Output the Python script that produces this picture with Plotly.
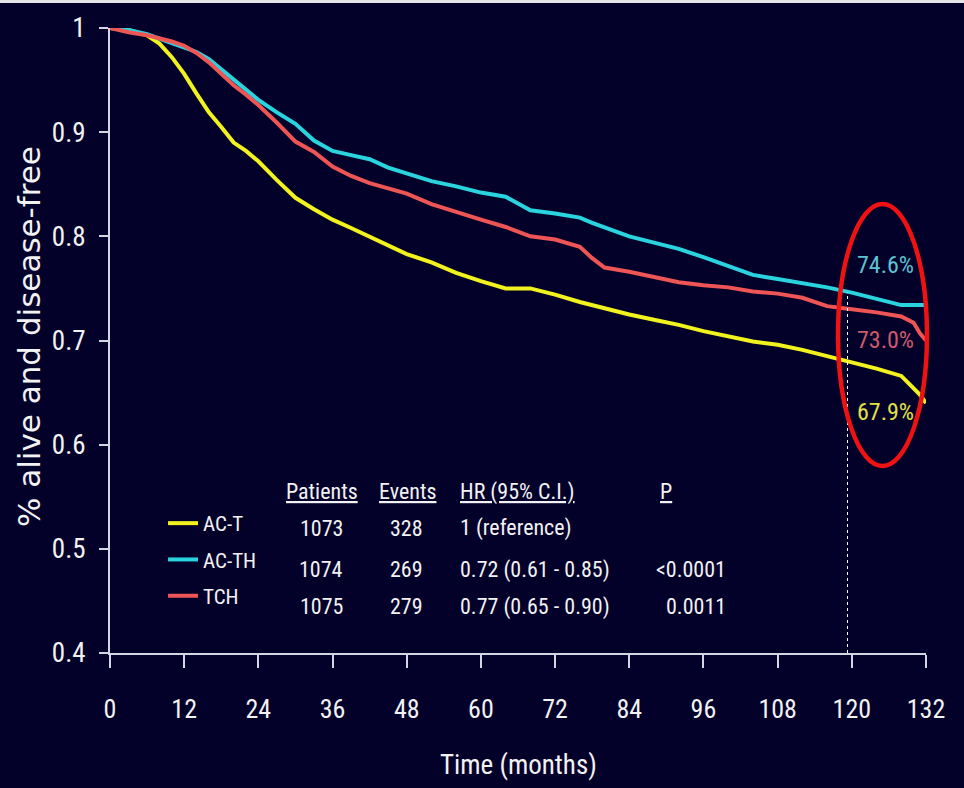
import plotly.graph_objects as go

# Kaplan-Meier disease-free survival, three arms
months = [0, 3, 6, 8, 10, 12, 14, 16, 18, 20, 22, 24, 27, 30, 33, 36, 39, 42, 45, 48,
          52, 56, 60, 64, 68, 72, 76, 78, 80, 84, 88, 92, 96, 100, 104, 108, 112, 116,
          120, 124, 128, 130, 131, 132]

ac_t = [1.000, 0.998, 0.993, 0.985, 0.972, 0.956, 0.937, 0.919, 0.905, 0.890, 0.882,
        0.872, 0.854, 0.837, 0.826, 0.816, 0.808, 0.800, 0.791, 0.783, 0.775, 0.765,
        0.757, 0.750, 0.750, 0.744, 0.737, 0.734, 0.731, 0.725, 0.720, 0.715, 0.709,
        0.704, 0.699, 0.696, 0.691, 0.685, 0.679, 0.673, 0.666, 0.654, 0.648, 0.640]

ac_th = [1.000, 0.998, 0.994, 0.990, 0.986, 0.982, 0.977, 0.970, 0.960, 0.950, 0.941,
         0.931, 0.919, 0.908, 0.892, 0.882, 0.878, 0.874, 0.866, 0.860, 0.853, 0.848,
         0.842, 0.838, 0.825, 0.822, 0.818, 0.813, 0.809, 0.800, 0.794, 0.788, 0.780,
         0.771, 0.763, 0.759, 0.755, 0.751, 0.746, 0.740, 0.734, 0.734, 0.734, 0.734]

tch = [1.000, 0.996, 0.993, 0.990, 0.987, 0.983, 0.976, 0.967, 0.956, 0.945, 0.936,
       0.926, 0.909, 0.891, 0.881, 0.867, 0.858, 0.851, 0.846, 0.841, 0.831, 0.823,
       0.816, 0.809, 0.800, 0.797, 0.790, 0.779, 0.770, 0.766, 0.761, 0.756, 0.753,
       0.751, 0.747, 0.745, 0.741, 0.733, 0.730, 0.727, 0.723, 0.717, 0.707, 0.700]

arm_names = ["AC-T", "AC-TH", "TCH"]
arm_series = [ac_t, ac_th, tch]
line_colors = ["#f2f21e", "#2ad4de", "#ee5555"]
label_colors = ["#e2e246", "#5cc3d3", "#cf5a6c"]

# 10-year (120 month) estimates
landmark_month = 120
landmark_pct = [67.9, 74.6, 73.0]
label_y = [0.6314, 0.7725, 0.7005]

# Summary table
table_headers = ["Patients", "Events", "HR (95% C.I.)", "P"]
patients = [1073, 1074, 1075]
events = [328, 269, 279]
hr_text = ["1 (reference)", "0.72 (0.61 - 0.85)", "0.77 (0.65 - 0.90)"]
p_text = ["", "<0.0001", "0.0011"]

tick_months = list(range(0, 133, 12))
y_ticks = [0.4, 0.5, 0.6, 0.7, 0.8, 0.9, 1.0]
y_ticktext = ["0.4", "0.5", "0.6", "0.7", "0.8", "0.9", "1"]

x_title = "Time (months)"
y_title = "% alive and disease-free"

BG = "#03012a"
AXIS = "#d4d4e4"
TXT = "#f2f2f2"
NARROW = "Roboto Condensed, Liberation Sans, sans-serif"

fig = go.Figure()
for name, vals, col in zip(arm_names, arm_series, line_colors):
    fig.add_trace(go.Scatter(
        x=months, y=vals, mode="lines", name=name, legendgroup=name,
        line=dict(color=col, width=4), hoverinfo="x+y+name",
    ))

annotations = []
# landmark labels
for pct, yv, col in zip(landmark_pct, label_y, label_colors):
    annotations.append(dict(
        x=125.5, y=yv, xref="x", yref="y", text=f"{pct:.1f}%", showarrow=False,
        font=dict(family=NARROW, size=24, color=col), xanchor="center", yanchor="middle",
    ))

# table
row_y = [0.520, 0.4797, 0.4442]
head_y = 0.5546
col_x = [34.3, 48.2, 56.3, 89.9]
col_anchor = ["center", "center", "left", "center"]
tfont = dict(family=NARROW, size=22, color=TXT)
for h, cx, anc in zip(table_headers, col_x, col_anchor):
    annotations.append(dict(x=cx, y=head_y, xref="x", yref="y", text=f"<u>{h}</u>",
                            showarrow=False, font=tfont, xanchor=anc, yanchor="middle"))
for i, ry in enumerate(row_y):
    annotations.append(dict(x=34.2, y=ry, xref="x", yref="y", text=str(patients[i]),
                            showarrow=False, font=tfont, xanchor="center", yanchor="middle"))
    annotations.append(dict(x=47.9, y=ry, xref="x", yref="y", text=str(events[i]),
                            showarrow=False, font=tfont, xanchor="center", yanchor="middle"))
    annotations.append(dict(x=56.3, y=ry, xref="x", yref="y", text=hr_text[i],
                            showarrow=False, font=tfont, xanchor="left", yanchor="middle"))
    if p_text[i]:
        annotations.append(dict(x=100.0, y=ry, xref="x", yref="y", text=p_text[i],
                                showarrow=False, font=tfont, xanchor="right", yanchor="middle"))

# axis titles
annotations.append(dict(x=0.5, y=-0.179, xref="paper", yref="paper", text=x_title,
                        showarrow=False, xanchor="center", yanchor="middle",
                        font=dict(family=NARROW, size=27, color=TXT)))
annotations.append(dict(x=-0.0993, y=0.507, xref="paper", yref="paper", text=y_title,
                        showarrow=False, xanchor="center", yanchor="middle", textangle=-90,
                        font=dict(family="DejaVu Sans, Verdana, sans-serif", size=31,
                                  color=TXT)))

shapes = [
    # thin light strip along the top edge
    dict(type="rect", xref="paper", yref="paper", x0=-0.14, x1=1.06, y0=1.040, y1=1.05,
         fillcolor="#e4e4e8", line=dict(width=0), layer="above"),
    # dashed guide at the landmark
    dict(type="line", xref="x", yref="y", x0=landmark_month - 0.7, x1=landmark_month - 0.7,
         y0=0.4, y1=max(landmark_pct) / 100, line=dict(color="#ffffff", width=1, dash="3px,3px")),
    # highlight ring around the landmark values
    dict(type="circle", xref="paper", yref="paper", x0=0.8922, x1=1.0012, y0=0.2992, y1=0.7184,
         line=dict(color="#f01212", width=4.5)),
]

fig.update_layout(
    width=964, height=788,
    margin=dict(l=110, r=38, t=28, b=135),
    paper_bgcolor=BG, plot_bgcolor=BG,
    showlegend=True,
    legend=dict(x=0.065, y=0.24, xanchor="left", yanchor="top", bgcolor="rgba(0,0,0,0)",
                font=dict(family=NARROW, size=21, color=TXT), tracegroupgap=6,
                itemclick=False),
    annotations=annotations,
    shapes=shapes,
    xaxis=dict(range=[0, 132], tickvals=tick_months, ticks="outside", ticklen=13,
               tickwidth=2, tickcolor=AXIS, showline=True, linecolor=AXIS, linewidth=2,
               showgrid=False, zeroline=False, ticklabelstandoff=19, automargin=False,
               tickfont=dict(family=NARROW, size=26, color=TXT)),
    yaxis=dict(range=[0.4, 1.0], tickvals=y_ticks, ticktext=y_ticktext, ticks="outside",
               ticklen=9, tickwidth=2, tickcolor=AXIS, showline=True, linecolor=AXIS,
               linewidth=2, showgrid=False, zeroline=False, ticklabelstandoff=8,
               automargin=False, tickfont=dict(family=NARROW, size=27, color=TXT)),
)

fig.write_html("out.html")
